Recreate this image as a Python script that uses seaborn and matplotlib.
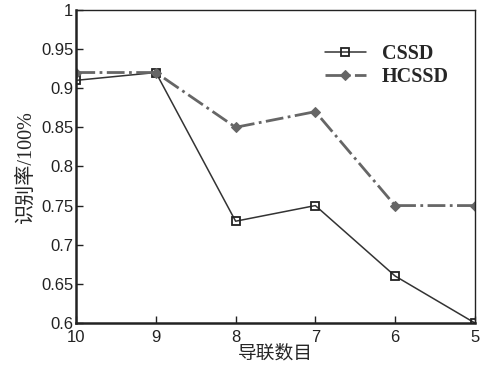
import pandas as pd
import seaborn as sns
import matplotlib.pyplot as plt

# Recognition rate vs. number of leads
leads = [10, 9, 8, 7, 6, 5]
cssd = [0.91, 0.92, 0.73, 0.75, 0.66, 0.60]
hcssd = [0.92, 0.92, 0.85, 0.87, 0.75, 0.75]
y_ticks = [0.6, 0.65, 0.7, 0.75, 0.8, 0.85, 0.9, 0.95, 1]
y_tick_labels = ["0.6", "0.65", "0.7", "0.75", "0.8", "0.85", "0.9", "0.95", "1"]

sns.set_theme(style="white")
plt.rcParams["font.family"] = ["Liberation Sans", "Noto Sans CJK SC"]

df = pd.DataFrame({"leads": leads, "CSSD": cssd, "HCSSD": hcssd})

fig = plt.figure(figsize=(4.85, 3.67), dpi=100)
ax = fig.add_axes([0.157, 0.12, 0.822, 0.853])

sns.lineplot(data=df, x="leads", y="CSSD", ax=ax, color="#333333", linewidth=1.1,
             marker="s", markersize=6, markerfacecolor="none",
             markeredgecolor="#222222", markeredgewidth=1.3, label="CSSD")
sns.lineplot(data=df, x="leads", y="HCSSD", ax=ax, color="#666666", linewidth=2.0,
             linestyle="-.", marker="D", markersize=5.5, markerfacecolor="#666666",
             markeredgecolor="#666666", label="HCSSD")

ax.set_xlim(10, 5)
ax.set_ylim(0.6, 1)
ax.set_xticks(leads)
ax.set_yticks(y_ticks)
ax.set_yticklabels(y_tick_labels)
ax.tick_params(axis="both", direction="in", length=5, width=1, labelsize=12,
               colors="#222222", top=False, right=False, left=True, bottom=True, pad=2)
ax.tick_params(axis="x", pad=5)

for side in ["top", "right"]:
    ax.spines[side].set_linewidth(1.0)
    ax.spines[side].set_color("#222222")
for side in ["left", "bottom"]:
    ax.spines[side].set_linewidth(1.8)
    ax.spines[side].set_color("#222222")

ax.set_xlabel("导联数目", fontsize=13.5, family=["Liberation Serif", "Noto Sans CJK SC"], labelpad=0)
ax.set_ylabel("识别率/100%", fontsize=14.5,
              family=["Liberation Serif", "Noto Sans CJK SC"], labelpad=4)

leg = ax.legend(loc="upper right", bbox_to_anchor=(0.98, 0.95), frameon=False,
                prop={"family": "Liberation Serif", "weight": "bold", "size": 14.5},
                handlelength=2.0, handletextpad=0.8, labelspacing=0.15)

plt.savefig("out.png", dpi=100)
plt.close()
